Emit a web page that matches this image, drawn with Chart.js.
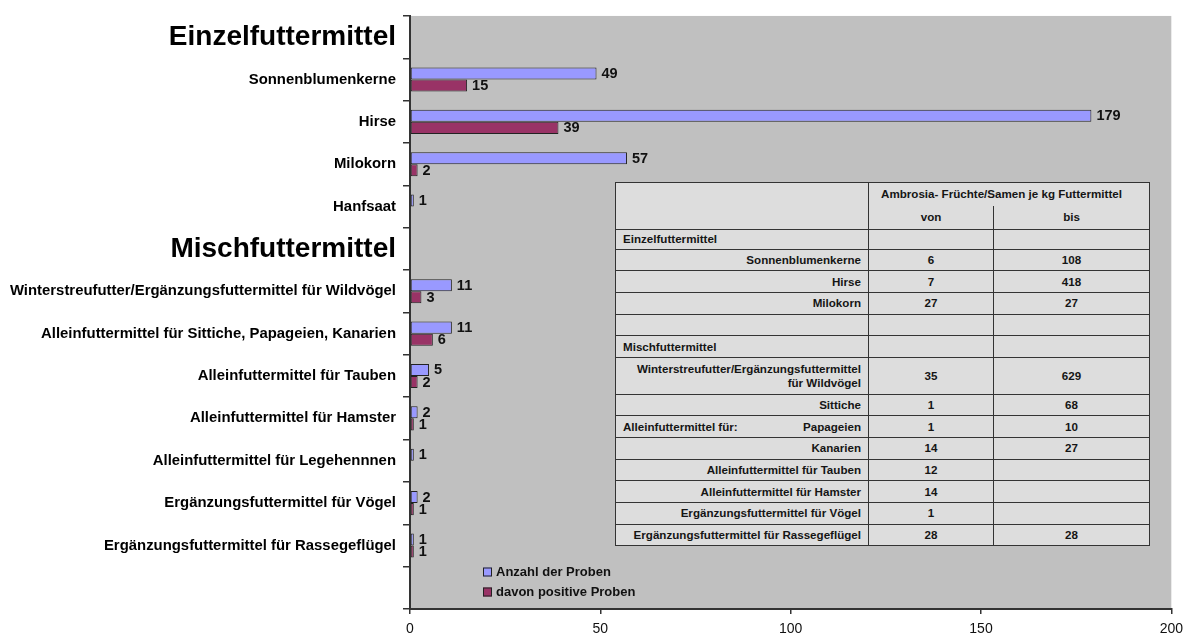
<!DOCTYPE html>
<html lang="de">
<head>
<meta charset="utf-8">
<title>Ambrosia in Futtermitteln</title>
<script src="https://cdn.jsdelivr.net/npm/chart.js@4.4.1/dist/chart.umd.min.js"></script>
<style>
  html, body { margin: 0; padding: 0; background: #ffffff; }
  #wrap { position: relative; width: 1190px; height: 636px; overflow: hidden; }
  #chart { position: absolute; left: 0; top: 0; }
  #ranges {
    position: absolute; left: 615px; top: 182px; width: 534px;
    border-collapse: collapse; table-layout: fixed;
    background: #dddddd; color: #151515;
    font-family: "Liberation Sans", Arial, sans-serif; font-weight: bold; font-size: 11.6px;
    border: 1.5px solid #333;
  }
  #ranges td { border: 1px solid #333; padding: 0 7px; line-height: 14px; text-align: center; white-space: nowrap; }
  #ranges td.name { text-align: right; }
  #ranges td.group { text-align: left; }
  #ranges td .lead { float: left; }
  #ranges tr.h1 td.span { border-bottom: none; padding-right: 22px; }
  #ranges tr.h2 td { border-top: none; }
</style>
</head>
<body>
<div id="wrap">
  <canvas id="chart" width="1190" height="636"></canvas>
  <table id="ranges"></table>
</div>
<script>
// Categories down the y axis; the empty-valued rows are group headings
const categories = [
  'Einzelfuttermittel',
  'Sonnenblumenkerne',
  'Hirse',
  'Milokorn',
  'Hanfsaat',
  'Mischfuttermittel',
  'Winterstreufutter/Ergänzungsfuttermittel für Wildvögel',
  'Alleinfuttermittel für Sittiche, Papageien, Kanarien',
  'Alleinfuttermittel für Tauben',
  'Alleinfuttermittel für Hamster',
  'Alleinfuttermittel für Legehennnen',
  'Ergänzungsfuttermittel für Vögel',
  'Ergänzungsfuttermittel für Rassegeflügel',
  ''
];
const headingRows = [0, 5];

const seriesNames = ['Anzahl der Proben', 'davon positive Proben'];
const samples  = [null, 49, 179, 57, 1, null, 11, 11, 5, 2, 1, 2, 1, null];
const positive = [null, 15, 39, 2, null, null, 3, 6, 2, 1, null, 1, 1, null];

const xTicks = [0, 50, 100, 150, 200];

// Ambrosia seeds per kg feed (von / bis)
const tableHeader = ['Ambrosia- Früchte/Samen je kg Futtermittel', 'von', 'bis'];
const tableNames = [
  'Einzelfuttermittel', 'Sonnenblumenkerne', 'Hirse', 'Milokorn', '',
  'Mischfuttermittel', 'Winterstreufutter/Ergänzungsfuttermittel<br>für Wildvögel',
  'Sittiche', 'Papageien', 'Kanarien',
  'Alleinfuttermittel für Tauben', 'Alleinfuttermittel für Hamster',
  'Ergänzungsfuttermittel für Vögel', 'Ergänzungsfuttermittel für Rassegeflügel'
];
const tableFrom = ['', '6', '7', '27', '', '', '35', '1', '1', '14', '12', '14', '1', '28'];
const tableTo   = ['', '108', '418', '27', '', '', '629', '68', '10', '27', '', '', '', '28'];
const tableGroupRows = [0, 5];
const tableLeadRow = 8;
const tableLeadText = 'Alleinfuttermittel für:';

const colors = ['#9999ff', '#993366'];
const FONT = '"Liberation Sans", Arial, sans-serif';

// build the range table
(function buildTable() {
  const t = document.getElementById('ranges');
  let html = '<colgroup><col style="width:253px"><col style="width:125px"><col style="width:156px"></colgroup>';
  html += '<tr class="h1" style="height:23px"><td rowspan="2"></td><td class="span" colspan="2">' + tableHeader[0] + '</td></tr>';
  html += '<tr class="h2" style="height:24px"><td>' + tableHeader[1] + '</td><td>' + tableHeader[2] + '</td></tr>';
  tableNames.forEach((name, i) => {
    const tall = name.indexOf('<br>') >= 0;
    const h = tall ? 36.6 : (i === 0 ? 19.5 : 21.7);
    let first;
    if (tableGroupRows.includes(i)) first = '<td class="group">' + name + '</td>';
    else if (i === tableLeadRow) first = '<td class="name"><span class="lead">' + tableLeadText + '</span>' + name + '</td>';
    else first = '<td class="name">' + name + '</td>';
    html += '<tr style="height:' + h + 'px">' + first + '<td>' + tableFrom[i] + '</td><td>' + tableTo[i] + '</td></tr>';
  });
  t.innerHTML = html;
})();

// gray plot background
const plotBackground = {
  id: 'plotBackground',
  beforeDraw(chart) {
    const { ctx, chartArea: a } = chart;
    ctx.save();
    ctx.fillStyle = '#c0c0c0';
    ctx.fillRect(a.left, a.top, a.right - a.left, a.bottom - a.top);
    ctx.restore();
  }
};

// value printed at the end of each bar
const barValues = {
  id: 'barValues',
  afterDatasetsDraw(chart) {
    const ctx = chart.ctx;
    ctx.save();
    ctx.font = 'bold 14.5px ' + FONT;
    ctx.fillStyle = '#111';
    ctx.textAlign = 'left';
    ctx.textBaseline = 'middle';
    chart.data.datasets.forEach((ds, di) => {
      const meta = chart.getDatasetMeta(di);
      meta.data.forEach((el, i) => {
        const v = ds.data[i];
        if (v === null || v === undefined) return;
        ctx.fillText(String(v), el.x + 5, el.y + 0.5);
      });
    });
    ctx.restore();
  }
};

// legend inside the plot area, lower left
const innerLegend = {
  id: 'innerLegend',
  afterDraw(chart) {
    const { ctx, chartArea: a } = chart;
    ctx.save();
    ctx.font = 'bold 13px ' + FONT;
    ctx.textBaseline = 'middle';
    ctx.textAlign = 'left';
    chart.data.datasets.forEach((ds, i) => {
      const x = a.left + 73;
      const y = a.bottom - 37 + i * 20;
      ctx.fillStyle = ds.backgroundColor;
      ctx.fillRect(x, y - 4.5, 9, 9);
      ctx.strokeStyle = '#222';
      ctx.lineWidth = 1;
      ctx.strokeRect(x + 0.5, y - 4, 8, 8);
      ctx.fillStyle = '#111';
      ctx.fillText(ds.label, x + 13, y + 0.5);
    });
    ctx.restore();
  }
};

new Chart(document.getElementById('chart'), {
  type: 'bar',
  data: {
    labels: categories,
    datasets: [
      { label: seriesNames[0], data: samples, backgroundColor: colors[0] },
      { label: seriesNames[1], data: positive, backgroundColor: colors[1] }
    ]
  },
  options: {
    indexAxis: 'y',
    responsive: false,
    devicePixelRatio: 1,
    animation: false,
    layout: { padding: { left: 0, top: 13, right: 18, bottom: 0 } },
    datasets: {
      bar: {
        borderColor: '#222',
        borderWidth: 1,
        borderSkipped: false,
        categoryPercentage: 0.57,
        barPercentage: 1
      }
    },
    plugins: {
      legend: { display: false },
      tooltip: { enabled: false },
      title: { display: false }
    },
    scales: {
      x: {
        type: 'linear',
        min: 0,
        max: 200,
        afterBuildTicks(scale) { scale.ticks = xTicks.map(v => ({ value: v })); },
        afterFit(scale) { scale.height = 27; },
        grid: { drawOnChartArea: false, drawTicks: true, tickLength: 5, color: '#333', lineWidth: 1.5 },
        border: { display: true, color: '#333', width: 2 },
        ticks: {
          padding: 7,
          color: '#111',
          font: { family: FONT, size: 14 },
          maxRotation: 0
        }
      },
      y: {
        afterFit(scale) { scale.width = 410; },
        grid: { drawOnChartArea: false, drawTicks: true, tickLength: 7, color: '#333', lineWidth: 1.5 },
        border: { display: true, color: '#333', width: 2 },
        ticks: {
          autoSkip: false,
          padding: 7,
          color: '#000',
          font: (c) => headingRows.includes(c.index)
            ? { family: FONT, size: 28, weight: 'bold' }
            : { family: FONT, size: 14.9, weight: 'bold' }
        }
      }
    }
  },
  plugins: [plotBackground, barValues, innerLegend]
});
</script>
</body>
</html>
